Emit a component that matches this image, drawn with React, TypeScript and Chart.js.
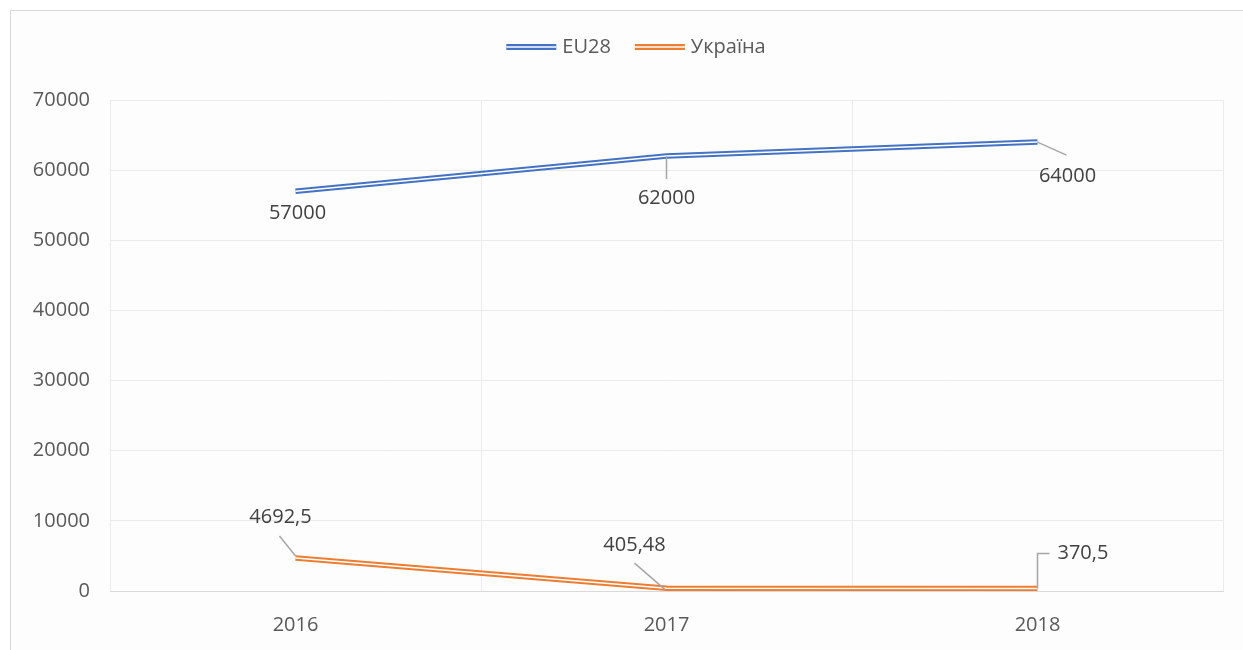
import React, { useEffect, useRef } from "react";
import { Chart, registerables } from "chart.js";

Chart.register(...registerables);

const categories = ["2016", "2017", "2018"];
const eu28 = [57000, 62000, 64000];
const ukraine = [4692.5, 405.48, 370.5];
const eu28Labels = ["57000", "62000", "64000"];
const ukraineLabels = ["4692,5", "405,48", "370,5"];
const yTicks = [0, 10000, 20000, 30000, 40000, 50000, 60000, 70000];
const seriesNames = ["EU28", "Україна"];

const FONT = "'Open Sans', 'Noto Sans', sans-serif";
const BLUE = "#4472C4";
const ORANGE = "#ED7D31";
const TEXT = "#595959";
const LABEL = "#404040";
const GRID = "#ebebeb";

// label placement styles (offsets from point, in px)
const euLabelStyle = [
  { dx: 2, dy: 22, align: "center", leader: null as number[][] | null },
  { dx: 0, dy: 42, align: "center", leader: [[0, 0], [0, 23]] },
  { dx: 30, dy: 34, align: "center", leader: [[0, 0], [29, 13]] },
];
const uaLabelStyle = [
  { dx: -15, dy: -41, align: "center", leader: [[0, -2], [-16, -22]] },
  { dx: -32, dy: -43, align: "center", leader: [[-2, 1], [-32, -25]] },
  { dx: 20, dy: -35, align: "left", leader: [[0, 0], [0, -35], [12, -35]] },
];

const dataLabelPlugin = {
  id: "dataLabels",
  afterDatasetsDraw(chart: any) {
    const ctx = chart.ctx as CanvasRenderingContext2D;
    const groups = [
      { ds: 0, labels: eu28Labels, style: euLabelStyle },
      { ds: 2, labels: ukraineLabels, style: uaLabelStyle },
    ];
    ctx.save();
    groups.forEach((g) => {
      const meta = chart.getDatasetMeta(g.ds);
      meta.data.forEach((pt: any, i: number) => {
        const st = g.style[i];
        const x = pt.x;
        const y = pt.y;
        if (st.leader) {
          ctx.beginPath();
          ctx.strokeStyle = "#a6a6a6";
          ctx.lineWidth = 1.5;
          st.leader.forEach((p, k) => {
            if (k === 0) ctx.moveTo(x + p[0], y + p[1]);
            else ctx.lineTo(x + p[0], y + p[1]);
          });
          ctx.stroke();
        }
        ctx.fillStyle = LABEL;
        ctx.font = `20px ${FONT}`;
        ctx.textAlign = st.align as CanvasTextAlign;
        ctx.textBaseline = "middle";
        ctx.fillText(g.labels[i], x + st.dx, y + st.dy);
      });
    });
    ctx.restore();
  },
};

const legendPlugin = {
  id: "doubleLegend",
  afterDraw(chart: any) {
    const ctx = chart.ctx as CanvasRenderingContext2D;
    ctx.save();
    ctx.font = `20px ${FONT}`;
    const colors = [BLUE, ORANGE];
    const lineW = 50;
    const gap = 6;
    const itemGap = 24;
    const widths = seriesNames.map((n) => lineW + gap + ctx.measureText(n).width);
    const total = widths.reduce((a, b) => a + b, 0) + itemGap;
    let x = 636 - total / 2;
    const y = 47;
    seriesNames.forEach((n, i) => {
      ctx.strokeStyle = colors[i];
      ctx.lineWidth = 6;
      ctx.beginPath();
      ctx.moveTo(x, y);
      ctx.lineTo(x + lineW, y);
      ctx.stroke();
      ctx.strokeStyle = "#ffffff";
      ctx.lineWidth = 1.6;
      ctx.beginPath();
      ctx.moveTo(x, y);
      ctx.lineTo(x + lineW, y);
      ctx.stroke();
      ctx.fillStyle = TEXT;
      ctx.textAlign = "left";
      ctx.textBaseline = "middle";
      ctx.fillText(n, x + lineW + gap, y);
      x += widths[i] + itemGap;
    });
    ctx.restore();
  },
};

export default function App() {
  const ref = useRef<HTMLCanvasElement | null>(null);

  useEffect(() => {
    if (!ref.current) return;
    const mk = (data: number[], color: string, width: number, order: number, label: string) => ({
      label,
      data,
      borderColor: color,
      backgroundColor: color,
      borderWidth: width,
      pointRadius: 0,
      tension: 0,
      fill: false,
      order,
      borderCapStyle: "butt" as const,
    });
    const chart = new Chart(ref.current, {
      type: "line",
      data: {
        labels: categories,
        datasets: [
          mk(eu28, BLUE, 5.5, 1, seriesNames[0]),
          mk(eu28, "#ffffff", 1.5, 0, seriesNames[0] + "-inner"),
          mk(ukraine, ORANGE, 5.5, 1, seriesNames[1]),
          mk(ukraine, "#ffffff", 1.5, 0, seriesNames[1] + "-inner"),
        ],
      },
      options: {
        animation: false,
        responsive: false,
        maintainAspectRatio: false,
        layout: { padding: { left: 0, right: 20, top: 100, bottom: 0 } },
        plugins: {
          legend: { display: false },
          tooltip: { enabled: false },
        },
        scales: {
          x: {
            offset: true,
            grid: { offset: true, color: GRID, lineWidth: 1, drawTicks: false },
            border: { display: true, color: "#d9d9d9", width: 1 },
            ticks: { padding: 22, color: TEXT, font: { family: FONT, size: 20 } },
            afterFit(s: any) {
              s.height = 59;
            },
          },
          y: {
            min: 0,
            max: 70000,
            grid: { color: GRID, lineWidth: 1, drawTicks: false },
            border: { display: false },
            ticks: {
              padding: 20,
              color: TEXT,
              font: { family: FONT, size: 20 },
              callback: (v: any) => String(v),
            },
            afterBuildTicks(s: any) {
              s.ticks = yTicks.map((v) => ({ value: v }));
            },
            afterFit(s: any) {
              s.width = 110;
            },
          },
        },
      },
      plugins: [dataLabelPlugin, legendPlugin],
    });
    return () => chart.destroy();
  }, []);

  return (
    <div style={{ position: "absolute", left: 0, top: 0, width: 1243, height: 650, overflow: "hidden", background: "#ffffff" }}>
      <div
        style={{
          position: "absolute",
          left: 10,
          top: 10,
          width: 1240,
          height: 650,
          borderLeft: "1px solid #d9d9d9",
          borderTop: "1px solid #d9d9d9",
          background: "#fdfdfd",
        }}
      />
      <canvas ref={ref} width={1243} height={650} style={{ position: "absolute", left: 0, top: 0 }} />
    </div>
  );
}
